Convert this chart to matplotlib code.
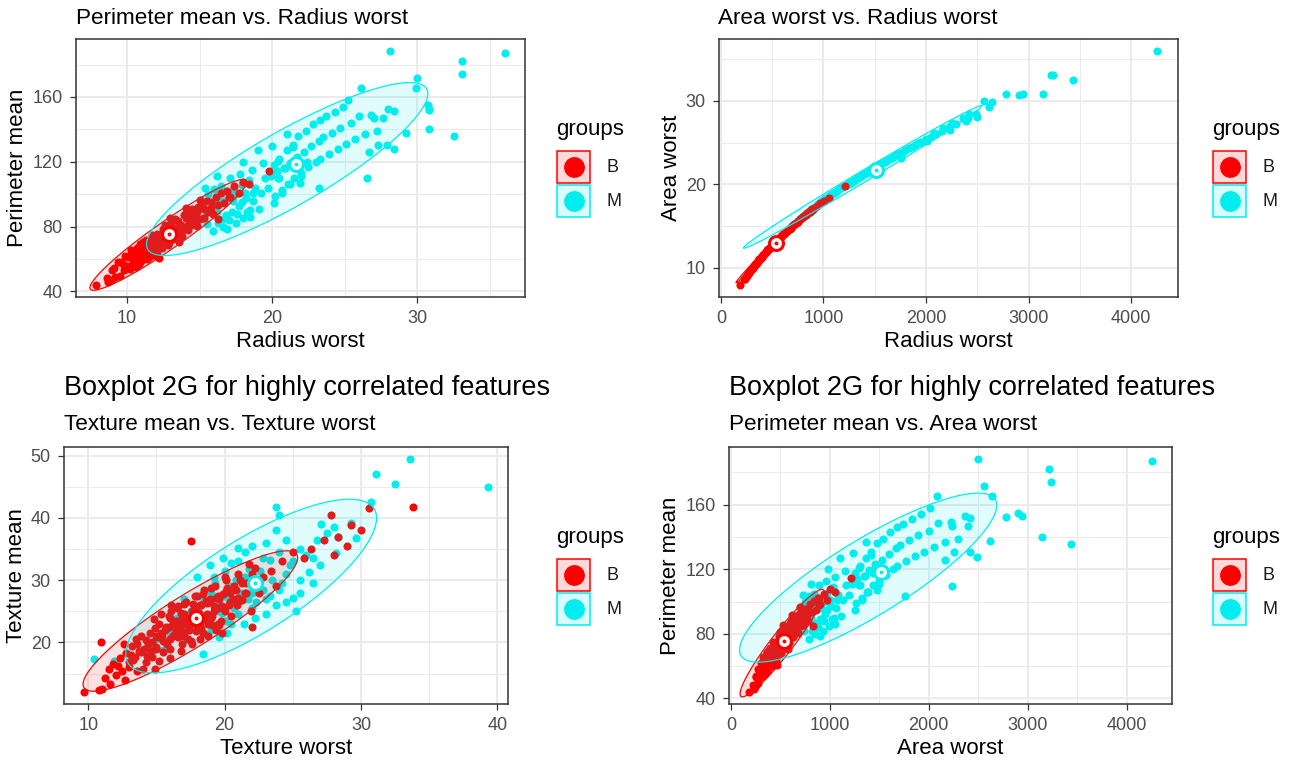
import numpy as np
import matplotlib
matplotlib.use("Agg")
import matplotlib.pyplot as plt
from matplotlib.patches import Polygon, Rectangle
from matplotlib.lines import Line2D
from matplotlib.ticker import MultipleLocator

plt.rcParams['font.family'] = ['Liberation Sans', 'DejaVu Sans']

W, H = 1296, 762
RED = '#FF0000'
CYAN = '#00EEEE'
GROUPS = ['B', 'M']

# ---- samples (B = benign, M = malignant) ----
# radius worst / area worst / perimeter mean, one entry per sample
b_radius_worst = [7.9, 8.6, 8.9, 9.1, 9.2, 9.4, 9.5, 9.7, 9.8, 9.9, 10.0, 10.1, 10.2, 10.3,
                  10.4, 10.5, 10.6, 10.7, 10.8, 10.9, 11.0, 11.1, 11.2, 11.3, 11.4, 11.5, 11.6,
                  11.7, 11.8, 11.9, 12.0, 12.1, 12.2, 12.3, 12.4, 12.5, 12.6, 12.7, 12.8, 12.9,
                  13.0, 13.1, 13.2, 13.3, 13.4, 13.5, 13.6, 13.7, 13.8, 13.9, 14.0, 14.1, 14.2,
                  14.3, 14.4, 14.5, 14.6, 14.7, 14.8, 14.9, 15.0, 15.2, 15.3, 15.5, 15.6, 15.8,
                  15.9, 16.1, 16.3, 16.5, 16.7, 16.9, 17.1, 17.4, 17.7, 18.0, 18.4, 19.8,
                  11.0, 11.5, 12.0, 12.5, 13.0, 13.5, 14.0, 14.5, 12.2, 16.3, 11.8, 13.2, 10.5,
                  15.5, 17.0, 9.6, 8.7, 9.0,
                  10.2, 10.8, 11.3, 11.9, 12.4, 12.9, 13.3, 13.8, 14.3, 14.8, 15.3, 15.8, 12.6,
                  13.6, 11.5, 14.1, 12.1, 13.0, 10.9, 15.0]
b_area_worst = [185, 226, 245, 256, 262, 272, 278, 290, 297, 303, 309, 315, 322, 328,
                334, 341, 348, 354, 361, 368, 375, 381, 388, 396, 403, 410, 417,
                424, 432, 439, 446, 454, 461, 469, 477, 484, 492, 500, 508, 516,
                524, 532, 540, 548, 557, 565, 573, 582, 590, 599, 608, 616, 625,
                634, 643, 652, 661, 670, 679, 688, 697, 716, 726, 745, 754, 774,
                784, 804, 824, 844, 865, 885, 906, 939, 971, 1004, 1050, 1215,
                372, 408, 448, 486, 522, 563, 606, 650, 462, 826, 430, 538, 342,
                748, 890, 283, 232, 250,
                322, 362, 396, 439, 477, 516, 548, 590, 634, 679, 726, 774, 492,
                573, 410, 616, 454, 524, 368, 697]
b_perimeter_mean = [43.8, 48.5, 47.0, 54.2, 48.8, 58.0, 49.6, 56.8, 53.4, 62.0, 55.6, 61.2, 53.8, 65.4,
                    58.0, 62.6, 55.2, 66.8, 59.4, 64.0, 58.6, 70.2, 62.8, 68.4, 60.0, 70.6, 64.2,
                    74.8, 67.4, 71.0, 63.6, 75.2, 67.8, 72.4, 67.0, 78.6, 71.2, 76.8, 68.4, 79.0,
                    72.6, 83.2, 75.8, 79.4, 73.0, 83.6, 76.2, 80.8, 74.4, 87.0, 79.6, 85.2, 77.8,
                    87.4, 81.0, 90.6, 84.2, 87.8, 80.4, 92.0, 84.6, 92.8, 85.4, 95.6, 89.2, 95.4,
                    88.0, 98.2, 93.4, 100.6, 94.8, 102.0, 98.2, 105.0, 100.8, 107.6, 106.0, 114.6,
                    67.0, 65.5, 73.0, 72.0, 81.0, 79.0, 88.0, 86.5, 60.8, 84.7, 62.5, 72.5, 64.5,
                    90.0, 98.0, 58.0, 46.0, 53.5,
                    62.0, 57.0, 71.5, 65.5, 75.5, 70.0, 84.5, 78.0, 82.5, 89.0, 91.0, 91.5, 81.0,
                    70.5, 61.0, 91.5, 64.0, 85.5, 69.0, 96.5]

m_radius_worst = [28.1, 33.1, 33.1, 36.0, 32.5, 30.8, 30.0, 29.9, 30.7, 30.8, 30.8, 29.2, 26.5,
                  26.1, 25.2, 27.9, 28.4, 27.3, 26.7, 28.0, 27.6, 28.4, 27.0,
                  15.5, 15.9, 16.2, 16.4, 16.6, 16.9, 17.0, 17.2, 17.4, 17.5, 17.7, 17.9, 18.0,
                  18.2, 18.4, 18.5, 18.7,
                  20.1, 20.2, 20.4, 20.5, 20.7, 20.8, 21.0, 21.1, 21.2, 21.4, 21.5, 21.7, 21.8,
                  22.0, 22.2, 22.3, 22.5, 22.7, 22.8, 23.0, 23.2, 23.3,
                  23.3, 23.5, 23.7, 23.9, 24.1, 23.2, 24.3, 24.5, 24.7, 24.9, 25.1, 25.4, 25.7,
                  26.0, 26.4, 26.8, 27.2,
                  14.8, 15.1, 15.3, 15.6, 15.8, 16.0, 16.1, 16.3, 16.5, 16.7, 16.8, 17.1, 17.3,
                  17.6, 17.8, 18.1, 18.3, 18.6, 18.8, 19.1, 19.4, 19.7, 20.1, 20.4, 20.7, 21.2,
                  21.4, 21.9, 16.2, 17.0, 18.0, 19.0, 20.0, 21.0, 22.0, 17.5, 18.5, 19.5, 20.5,
                  21.5, 15.4, 16.6, 17.9, 19.2, 20.3, 21.7, 22.4, 18.7, 19.9, 20.9]
m_area_worst = [2499, 3216, 3234, 4254, 3432, 3143, 2562, 2642, 2906, 2944, 2782, 2615, 2232,
                2081, 2010, 2414, 2485, 2252, 2162, 2364, 2394, 2420, 2232,
                740, 788, 805, 830, 850, 899, 880, 905, 925, 935, 955, 975, 990,
                1010, 1030, 1045, 1070,
                1252, 1265, 1290, 1303, 1328, 1341, 1367, 1380, 1393, 1420, 1433, 1460, 1473,
                1500, 1528, 1542, 1569, 1597, 1612, 1640, 1669, 1683,
                1683, 1712, 1741, 1771, 1800, 1758, 1831, 1861, 1891, 1922, 1953, 2000, 2048,
                2096, 2160, 2227, 2293,
                670, 700, 715, 750, 775, 790, 800, 820, 840, 865, 875, 895, 915,
                945, 965, 1000, 1020, 1055, 1080, 1115, 1155, 1195, 1250, 1290, 1330, 1390,
                1415, 1480, 810, 885, 985, 1105, 1235, 1370, 1500, 940, 1050, 1165, 1310,
                1435, 730, 855, 970, 1135, 1275, 1455, 1545, 1065, 1225, 1355]
m_perimeter_mean = [188.5, 182.1, 174.2, 186.9, 135.7, 140.1, 171.5, 165.5, 155.1, 152.8, 152.1, 137.8, 109.8,
                    165.5, 158.0, 130.6, 127.6, 130.6, 126.0, 152.7, 147.0, 151.5, 147.0,
                    81.5, 77.0, 89.0, 95.5, 84.5, 78.6, 98.5, 89.0, 102.0, 82.0, 92.5, 105.5, 85.0,
                    97.5, 109.0, 90.0, 101.0,
                    118.0, 99.0, 110.0, 122.0, 102.5, 116.0, 127.0, 106.0, 119.5, 130.5, 110.0, 123.0, 136.0,
                    113.0, 126.0, 139.0, 116.5, 129.5, 143.0, 120.0, 133.0, 146.0,
                    122.0, 135.0, 148.0, 125.0, 138.0, 103.6, 151.0, 128.0, 141.0, 154.0, 131.0, 144.0, 134.0,
                    148.5, 137.0, 149.0, 139.0,
                    91.0, 96.5, 86.0, 100.0, 89.0, 103.5, 95.0, 82.0, 105.0, 96.0, 87.0, 110.0, 96.0,
                    88.0, 112.5, 101.0, 89.0, 115.0, 104.0, 91.0, 119.0, 104.0, 94.5, 120.5, 101.0, 106.0,
                    129.0, 107.0, 111.0, 84.0, 120.0, 127.0, 130.0, 137.0, 111.0, 100.0, 86.0, 110.0, 110.0,
                    118.0, 104.0, 80.0, 95.0, 101.0, 114.0, 121.0, 120.0, 96.0, 111.0, 116.0]

# texture pair (x axis labelled "Texture worst", y axis "Texture mean")
b_texture_x = [9.7, 10.8, 11.0, 10.9, 11.2, 11.5, 11.8, 12.0, 12.3, 12.5, 12.8, 13.0, 13.2, 13.4,
               13.5, 13.7, 13.9, 14.1, 14.3, 14.5, 14.7, 14.9, 15.0, 15.2, 15.4, 15.5, 15.7, 15.9,
               16.0, 16.2, 16.4, 16.5, 16.7, 16.9, 17.0, 17.2, 17.5, 17.4, 17.6, 17.8, 18.0, 18.2,
               18.4, 18.5, 18.7, 18.9, 19.1, 19.3, 19.5, 19.7, 19.9, 20.1, 20.3, 20.5, 20.8, 21.0,
               21.3, 21.6, 21.9, 22.2, 22.5, 22.8, 23.4, 23.8, 24.2, 25.0, 25.8, 26.3, 27.3, 27.8,
               28.0, 28.3, 29.0, 29.3, 30.0, 30.6, 33.8, 14.0, 12.6, 16.0, 22.0,
               13.1, 13.6, 14.2, 14.6, 14.8, 15.1, 15.3, 15.6, 15.8, 16.1, 16.3, 16.6, 16.8, 17.1,
               17.3, 17.7, 17.9, 18.1, 18.3, 18.6, 18.8, 19.2, 19.6, 20.0, 20.4,
               13.0, 13.3, 13.6, 13.9, 14.2, 14.4, 14.7, 15.0, 15.2, 15.5, 15.8, 16.0, 16.3, 16.6,
               16.8, 17.0, 17.3, 17.6, 17.9, 18.2, 18.5, 18.8, 19.1, 19.4, 19.8, 12.2, 12.7, 11.6,
               14.9, 16.1,
               15.0, 15.3, 15.6, 15.9, 16.2, 16.5, 16.8, 17.1, 17.4, 17.7, 18.0, 18.3, 18.6, 18.9,
               19.2, 19.5, 19.8, 20.1, 20.4, 20.7, 21.0, 21.3, 21.6, 16.0, 17.0, 18.0, 19.0, 20.0,
               17.5, 19.5,
               16.4, 16.9, 17.3, 17.8, 18.2, 18.7, 19.0, 19.4, 19.9, 20.2, 20.6, 21.1, 21.5, 22.0,
               17.0, 18.4, 19.6, 20.9, 16.6, 21.8]
b_texture_y = [12.0, 12.4, 12.6, 20.0, 14.3, 15.8, 16.5, 14.8, 17.5, 15.5, 18.3, 16.8, 19.5, 17.6,
               20.5, 18.6, 21.0, 19.0, 17.8, 21.5, 20.0, 22.3, 19.2, 23.0, 21.0, 18.5, 22.5, 24.3,
               20.5, 23.5, 21.8, 25.5, 22.8, 19.8, 24.5, 26.5, 36.3, 22.0, 25.0, 27.5, 23.2, 26.0,
               21.5, 28.5, 24.5, 27.0, 22.8, 29.0, 25.5, 23.5, 27.8, 30.0, 26.0, 24.2, 28.5, 31.0,
               26.8, 29.5, 25.0, 32.0, 28.0, 30.5, 31.5, 29.0, 33.0, 34.5, 33.5, 35.0, 36.5, 40.5,
               34.0, 37.0, 35.5, 38.8, 38.0, 41.6, 41.8, 15.8, 19.8, 17.5, 22.5,
               18.0, 19.8, 20.4, 18.6, 23.8, 20.8, 24.5, 22.0, 19.8, 25.0, 22.8, 20.8, 24.8, 23.0,
               20.5, 26.2, 21.8, 24.8, 22.4, 26.6, 23.0, 25.8, 27.0, 25.0, 28.0,
               16.0, 17.2, 15.5, 18.5, 16.8, 19.8, 17.6, 21.0, 17.0, 20.2, 22.4, 19.0, 21.2, 23.2,
               18.6, 21.5, 24.0, 19.8, 23.0, 20.5, 23.8, 21.0, 24.2, 22.0, 21.5, 16.2, 14.0, 13.4,
               15.8, 26.0,
               19.0, 21.5, 20.0, 22.5, 21.0, 23.5, 21.8, 24.0, 22.5, 25.0, 23.5, 26.0, 24.2, 26.8,
               25.0, 27.5, 25.8, 28.2, 26.5, 29.0, 27.2, 29.6, 28.0, 24.0, 26.2, 27.5, 28.8, 30.5,
               20.2, 23.0,
               22.8, 24.0, 22.2, 25.5, 23.0, 26.4, 24.0, 27.2, 25.6, 28.8, 27.0, 30.0, 28.0, 31.0,
               21.0, 27.8, 22.8, 26.0, 25.8, 32.6]
m_texture_x = [10.4, 11.9, 18.4, 25.2, 23.8, 24.0, 30.7, 31.1, 32.5, 33.6, 39.3, 29.3, 27.1, 28.0,
               29.6, 28.2, 26.2, 18.9, 19.2, 20.5, 21.0, 21.5, 22.0, 22.6, 23.0, 23.3, 24.0, 24.5,
               25.0, 25.5, 26.0, 26.8, 27.5, 28.3, 22.0, 22.5, 23.0, 23.5, 24.0, 24.5, 25.5, 26.5,
               27.0, 20.0, 20.5, 21.0, 21.5, 19.5, 19.0, 18.0, 17.0, 16.5, 17.5, 18.5, 20.0, 21.0,
               22.0, 23.0, 24.5, 25.5, 15.0, 16.0, 19.0, 20.0, 21.8, 23.8, 26.5, 24.8, 22.8, 20.8,
               17.5, 18.2, 18.8, 19.3, 19.8, 20.3, 20.7, 21.2, 21.7, 22.3, 22.8, 23.3, 23.8, 20.2,
               19.6, 21.4, 17.2, 16.2, 15.5, 18.0, 19.9, 21.0, 22.2, 24.2, 25.0,
               14.5, 16.8, 18.5, 19.5, 20.5]
m_texture_y = [17.3, 17.0, 18.2, 25.1, 41.7, 40.5, 42.6, 47.1, 45.4, 49.5, 44.9, 39.2, 39.0, 38.5,
               36.8, 34.3, 31.3, 32.5, 30.5, 32.8, 33.0, 34.5, 35.5, 31.5, 36.0, 33.2, 34.5, 36.5,
               33.0, 35.0, 34.0, 36.5, 37.5, 37.0, 28.0, 29.5, 27.0, 30.0, 28.5, 31.0, 30.0, 29.5,
               32.5, 27.5, 29.0, 26.5, 30.5, 26.0, 28.0, 24.5, 27.0, 24.0, 22.5, 26.5, 23.5, 24.5,
               25.5, 24.5, 26.5, 28.0, 20.5, 21.5, 22.0, 31.5, 31.8, 38.0, 33.5, 32.5, 33.5, 30.0,
               25.0, 27.5, 23.5, 29.5, 24.8, 27.0, 25.5, 28.0, 27.0, 26.5, 28.5, 27.5, 26.0, 21.5,
               20.8, 23.0, 20.5, 22.8, 18.8, 30.5, 33.6, 35.2, 24.0, 29.5, 27.2,
               19.5, 21.0, 21.5, 25.0, 23.0]


def fx(px):
    return px / W


def fy(py):
    return 1 - py / H


def ellipse(x, y, r=2.45, nu=5, n=120):
    # multivariate-t (robust) ellipse, like stat_ellipse(type = "t")
    xy = np.column_stack([x, y])
    wt = np.ones(len(xy))
    for _ in range(60):
        mu = (wt[:, None] * xy).sum(0) / wt.sum()
        d = xy - mu
        cov = (wt[:, None] * d).T @ d / len(xy)
        dist = np.einsum('ij,jk,ik->i', d, np.linalg.inv(cov), d)
        wt = (nu + 2) / (nu + dist)
    chol = np.linalg.cholesky(cov)
    t = np.linspace(0, 2 * np.pi, n)
    circ = np.column_stack([np.cos(t), np.sin(t)]) * r
    return mu + circ @ chol.T


def panel(box, data, xlabel, ylabel, xmaj, xmin, ymaj, ymin):
    l, t, r, b = box
    ax = fig.add_axes([fx(l), fy(b), fx(r) - fx(l), (b - t) / H])
    (xb, yb), (xm, ym) = data
    ax.scatter(xm, ym, s=34, color=CYAN, lw=0, zorder=2)
    ax.scatter(xb, yb, s=34, color=RED, lw=0, zorder=2)
    for (x, y), c in zip(data, [RED, CYAN]):
        pts = ellipse(x, y)
        ax.add_patch(Polygon(pts, closed=True, facecolor=c, alpha=0.12, lw=0, zorder=3))
        ax.add_patch(Polygon(pts, closed=True, fill=False, edgecolor=c, lw=0.9, zorder=3))
    for (x, y), c in zip(data, [RED, CYAN]):
        mx, my = np.mean(x), np.mean(y)
        ax.scatter([mx], [my], s=150, color=c, lw=0, zorder=4)
        ax.scatter([mx], [my], s=62, color='white', lw=0, zorder=4)
        ax.scatter([mx], [my], s=8, color=c, lw=0, zorder=4)
    allx = np.concatenate([xb, xm])
    ally = np.concatenate([yb, ym])
    dx = (allx.max() - allx.min()) * 0.05
    dy = (ally.max() - ally.min()) * 0.05
    ax.set_xlim(allx.min() - dx, allx.max() + dx)
    ax.set_ylim(ally.min() - dy, ally.max() + dy)
    ax.xaxis.set_major_locator(MultipleLocator(xmaj))
    ax.xaxis.set_minor_locator(MultipleLocator(xmin))
    ax.yaxis.set_major_locator(MultipleLocator(ymaj))
    ax.yaxis.set_minor_locator(MultipleLocator(ymin))
    ax.grid(which='major', color='#EBEBEB', lw=1.4, zorder=0)
    ax.grid(which='minor', color='#EBEBEB', lw=0.7, zorder=0)
    ax.set_axisbelow(True)
    ax.tick_params(which='major', length=4, width=0.9, color='#333333',
                   labelsize=13, labelcolor='#4D4D4D', pad=5.5)
    ax.tick_params(which='minor', length=0)
    for s in ax.spines.values():
        s.set_color('#333333')
        s.set_linewidth(1.1)
    ax.set_xlabel(xlabel, fontsize=16, labelpad=3)
    ax.set_ylabel(ylabel, fontsize=16, labelpad=3)
    return ax


def legend(x, ytitle):
    fig.text(fx(x), fy(ytitle), 'groups', fontsize=16, va='center', ha='left')
    for i, (g, c) in enumerate(zip(GROUPS, [RED, CYAN])):
        top = ytitle + 21 + i * 34
        fig.add_artist(Rectangle((fx(x + 1), fy(top + 32)), 33 / W, 32 / H,
                                 facecolor=c, alpha=0.15, edgecolor='none'))
        fig.add_artist(Rectangle((fx(x + 1), fy(top + 32)), 33 / W, 32 / H,
                                 facecolor='none', edgecolor=c, lw=1.1))
        fig.add_artist(Line2D([fx(x + 17.5)], [fy(top + 16)], marker='o', ms=15,
                              color=c, mec='none', ls='none'))
        fig.text(fx(x + 50), fy(top + 17), g, fontsize=13, va='center', ha='left',
                 color='#1A1A1A')


fig = plt.figure(figsize=(W / 100, H / 100), dpi=100)

panel((76, 39, 525, 297),
      [(b_radius_worst, b_perimeter_mean), (m_radius_worst, m_perimeter_mean)],
      'Radius worst', 'Perimeter mean', 10, 5, 40, 20)
panel((719, 39, 1178, 297),
      [(b_area_worst, b_radius_worst), (m_area_worst, m_radius_worst)],
      'Radius worst', 'Area worst', 1000, 500, 10, 5)
panel((64, 447, 508, 704),
      [(b_texture_x, b_texture_y), (m_texture_x, m_texture_y)],
      'Texture worst', 'Texture mean', 10, 5, 10, 5)
panel((729, 447, 1172, 704),
      [(b_area_worst, b_perimeter_mean), (m_area_worst, m_perimeter_mean)],
      'Area worst', 'Perimeter mean', 1000, 500, 40, 20)

fig.text(fx(76), fy(18), 'Perimeter mean vs. Radius worst', fontsize=16.2, va='center')
fig.text(fx(718), fy(18), 'Area worst vs. Radius worst', fontsize=16.2, va='center')
fig.text(fx(64), fy(388), 'Boxplot 2G for highly correlated features', fontsize=19.5, va='center')
fig.text(fx(64), fy(425), 'Texture mean vs. Texture worst', fontsize=16.2, va='center')
fig.text(fx(729), fy(388), 'Boxplot 2G for highly correlated features', fontsize=19.5, va='center')
fig.text(fx(729), fy(425), 'Perimeter mean vs. Area worst', fontsize=16.2, va='center')

legend(556, 130)
legend(1212, 130)
legend(556, 538)
legend(1212, 538)

fig.savefig('out.png', dpi=100)
